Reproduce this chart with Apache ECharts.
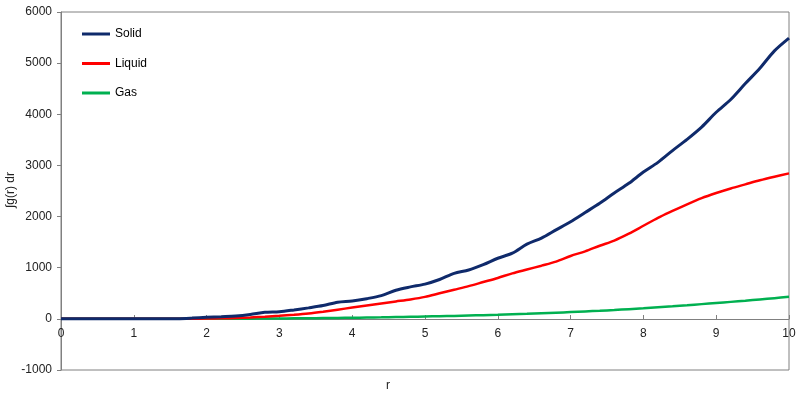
<!DOCTYPE html>
<html>
<head>
<meta charset="utf-8">
<script src="https://cdn.jsdelivr.net/npm/echarts@6/dist/echarts.min.js"></script>
<style>html,body{margin:0;padding:0;background:#fff}#c{width:800px;height:400px}</style>
</head>
<body>
<div id="c"></div>
<script>
var rValues = [0,0.2,0.4,0.6,0.8,1.0,1.2,1.4,1.6,1.8,2.0,2.2,2.4,2.6,2.8,3.0,3.2,3.4,3.6,3.8,4.0,4.2,4.4,4.6,4.8,5.0,5.2,5.4,5.6,5.8,6.0,6.2,6.4,6.6,6.8,7.0,7.2,7.4,7.6,7.8,8.0,8.2,8.4,8.6,8.8,9.0,9.2,9.4,9.6,9.8,10.0];
var solid = [0,0,0,0,0,0,0,0,3,15,30,42,55,85,128,140,175,215,260,325,350,395,455,560,625,680,770,890,955,1060,1185,1285,1460,1580,1740,1900,2080,2260,2460,2650,2870,3060,3290,3510,3750,4040,4290,4600,4900,5240,5490];
var liquid = [0,0,0,0,0,0,0,0,0,2,5,10,18,28,42,60,80,105,140,180,220,260,300,340,380,430,500,570,640,720,800,890,965,1040,1120,1230,1320,1430,1530,1665,1820,1975,2110,2240,2360,2460,2550,2630,2710,2780,2845];
var gas = [0,0,0,0,0,0,0,0,0,1,2,2,3,4,6,8,10,12,15,18,22,26,30,35,40,46,52,58,65,72,80,89,98,109,120,132,145,158,173,190,206,225,245,266,288,310,332,355,380,405,430];
var xTicks = [0,1,2,3,4,5,6,7,8,9,10];
var yTicks = [-1000,0,1000,2000,3000,4000,5000,6000];
var seriesNames = ['Solid','Liquid','Gas'];
var seriesColors = ['#0F2A6B','#FF0000','#00B050'];

function pairs(arr){ return rValues.map(function(r,i){ return [r, arr[i]]; }); }
var allData = [solid, liquid, gas];

var chart = echarts.init(document.getElementById('c'), null, {renderer:'canvas'});
var axisColor = '#808080';
var labelColor = '#222';
var font = 'Liberation Sans, Arial, sans-serif';
var gridTop = 12, gridBottom = 30, H = 400;
var plotH = H - gridTop - gridBottom;
var yMin = yTicks[0], yMax = yTicks[yTicks.length-1];
var zeroOffset = -Math.round(plotH * (0 - yMin) / (yMax - yMin));
chart.setOption({
  animation:false,
  backgroundColor:'#fff',
  grid:{left:61,right:11,top:gridTop,bottom:gridBottom,show:true,borderColor:axisColor,borderWidth:1,containLabel:false},
  legend:{
    orient:'vertical', left:82, top:27, padding:0, itemWidth:28, itemHeight:3, itemGap:15.5,
    icon:'rect',
    data:seriesNames,
    textStyle:{fontFamily:font,fontSize:12,color:'#000',height:14,lineHeight:14}
  },
  xAxis:{
    type:'value', min:xTicks[0], max:xTicks[xTicks.length-1], interval:1,
    position:'bottom', offset:zeroOffset,
    axisLine:{onZero:false,lineStyle:{color:axisColor,width:1}},
    axisTick:{inside:true,length:4,lineStyle:{color:axisColor}},
    axisLabel:{margin:9,color:labelColor,fontFamily:font,fontSize:12},
    splitLine:{show:false}
  },
  yAxis:{
    type:'value', min:yMin, max:yMax, interval:1000,
    axisLine:{show:true,lineStyle:{color:axisColor,width:1}},
    axisTick:{show:true,inside:false,length:4,lineStyle:{color:axisColor}},
    axisLabel:{margin:9,color:labelColor,fontFamily:font,fontSize:12,formatter:function(v){return String(v);}},
    splitLine:{show:false}
  },
  graphic:[
    {type:'text',left:386,top:380,style:{text:'r',fill:labelColor,font:'12px '+font}},
    {type:'text',x:11,y:190,rotation:Math.PI/2,style:{text:'∫g(r) dr',fill:labelColor,font:'12px '+font,textAlign:'center',textVerticalAlign:'middle'}}
  ],
  series:seriesNames.map(function(n,i){
    return {
      name:n, type:'line', data:pairs(allData[i]), symbol:'none', smooth:0.3,
      lineStyle:{color:seriesColors[i],width:i===0?3:2.5},
      itemStyle:{color:seriesColors[i]},
      z: 3 - i
    };
  })
});
</script>
</body>
</html>
